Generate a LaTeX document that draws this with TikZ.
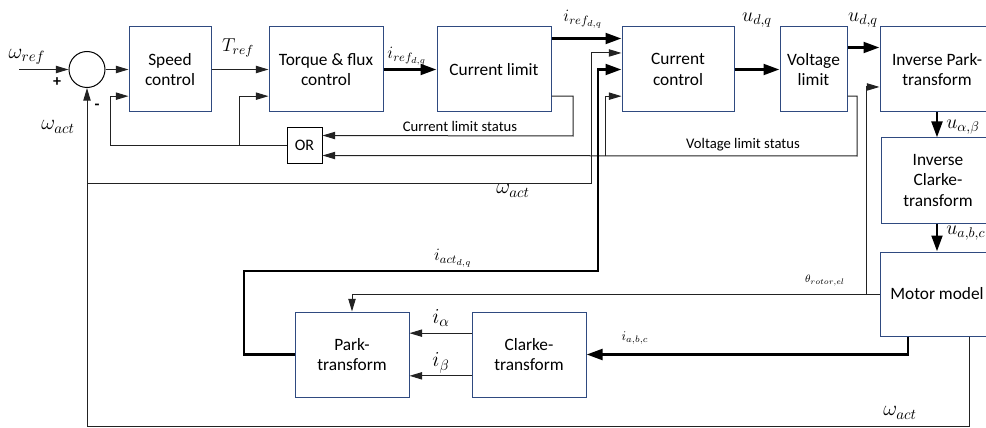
\RequirePackage{fix-cm}
\documentclass[tikz,border=0pt]{standalone}
\usepackage{fontspec}
\setmainfont{Carlito}
\usetikzlibrary{arrows.meta,positioning,calc}
\definecolor{boxblue}{HTML}{2F4A80}
\definecolor{wire}{HTML}{222222}
\tikzset{
  box/.style={rectangle,draw=boxblue,line width=0.75pt,align=center,
              font=\fontsize{13}{15.5}\selectfont,inner sep=2pt,
              minimum width=85.5pt,minimum height=63.75pt},
  orbox/.style={rectangle,draw=black,line width=0.75pt,font=\fontsize{12}{14}\selectfont,
              minimum width=26.25pt,minimum height=26.25pt,inner sep=0pt},
  sumc/.style={circle,draw=black,line width=0.75pt,minimum size=27pt,inner sep=0pt},
  fl/.style={-{Triangle[length=9.5pt,width=5.5pt]},line width=0.75pt,draw=wire},
  flt/.style={-{Triangle[length=12pt,width=8pt]},line width=2.2pt,draw=black},
  lbl/.style={font=\fontsize{11}{13}\selectfont,inner sep=0pt},
  mth/.style={inner sep=0pt},
  sgn/.style={font=\bfseries\fontsize{12}{14}\selectfont,inner sep=0pt},
}

\begin{document}
\begin{tikzpicture}[x=0.75pt,y=-0.75pt]
\useasboundingbox (0,0) rectangle (986,428);
% blocks
\node[sumc] (sum) at (87,69.5) {};
\node[box,minimum width=61.5pt] (spd) at (170,69.5) {Speed\\control};
\node[box] (trq) at (326,69.5) {Torque \& flux\\control};
\node[box] (clim) at (494,69.5) {Current limit};
\node[box,minimum width=84pt] (cctl) at (678,69.5) {Current\\control};
\node[box,minimum width=50.25pt] (vlim) at (813.5,69.5) {Voltage\\limit};
\node[box] (ipark) at (937,69.5) {Inverse Park-\\transform};
\node[box] (iclk) at (938,180.5) {Inverse\\Clarke-\\transform};
\node[box,minimum height=63pt] (motor) at (937,294) {Motor model};
\node[orbox] (or) at (304.5,145.5) {OR};
\node[box] (park) at (352,354.5) {Park-\\transform};
\node[box] (clk) at (529,354.5) {Clarke-\\transform};
% forward path
\coordinate (win) at (19,69.5);
\draw[fl] (win) -- (sum);
\node[mth,font=\fontsize{16}{19}\selectfont] (lwref) at (27,57) {$\omega_{ref}$};
\node[sgn] (lplus) at (57,82) {+};
\node[sgn] (lminus) at (97,107) {-};
\draw[fl] (sum) -- (spd);
\draw[fl] (spd) -- (trq);
\node[mth,font=\fontsize{14}{16}\selectfont] (ltref) at (238,48) {$T_{ref}$};
\draw[flt] (trq) -- (clim);
\node[mth,font=\fontsize{13}{15}\selectfont] (liref) at (407,56) {$i_{ref_{d,q}}$};
\draw[flt] ([yshift=-9pt]clim.north east) -- ([yshift=-9pt]cctl.north west);
\node[mth,font=\fontsize{13}{15}\selectfont] (liref2) at (583,19) {$i_{ref_{d,q}}$};
\draw[flt] (cctl) -- (vlim);
\node[mth,font=\fontsize{15}{17}\selectfont] (lud) at (757,20) {$u_{d,q}$};
\draw[flt] ([yshift=-15.75pt]vlim.north east) -- ([yshift=-15.75pt]ipark.north west);
\node[mth,font=\fontsize{15}{17}\selectfont] (lud2) at (863,20) {$u_{d,q}$};
\draw[flt] (ipark.south) -- (ipark.south |- iclk.north);
\node[mth,font=\fontsize{15}{17}\selectfont,anchor=west] (luab) at (946,127) {$u_{\alpha,\beta}$};
\draw[flt] (iclk.south -| ipark.south) -- (ipark.south |- motor.north);
\node[mth,font=\fontsize{15}{17}\selectfont,anchor=west] (luabc) at (946,233) {$u_{a,b,c}$};
% limit status and OR feedback
\coordinate (cls) at (573,136);
\draw[fl] ([yshift=-20pt]clim.east) -| (cls) -- ([yshift=7.5pt]or.east);
\node[lbl] (lcls) at (460,126) {Current limit status};
\coordinate (vls) at (857,156);
\draw[fl] ([yshift=-20pt]vlim.east) -| (vls) -- ([yshift=-7.5pt]or.east);
\node[lbl] (lvls) at (743,145) {Voltage limit status};
\coordinate (vlsb) at (605,156);
\draw[fl] (vlsb) |- ([yshift=-20pt]cctl.west);
\coordinate (fbspd) at (110,145.5);
\coordinate (fbtrq) at (239,145.5);
\draw[fl] (or.west) -- (fbspd) |- ([yshift=-20pt]spd.west);
\draw[fl] (fbtrq) |- ([yshift=-20pt]trq.west);
% speed feedback
\coordinate (wbl) at (87,426.5);
\draw[fl] ([xshift=24pt]motor.south) |- (wbl) -- (sum.south);
\node[mth,font=\fontsize{16}{19}\selectfont] (lwact1) at (58,127) {$\omega_{act}$};
\node[mth,font=\fontsize{16}{19}\selectfont] (lwact3) at (900,413) {$\omega_{act}$};
\coordinate (wbr) at (87,183);
\coordinate (wup) at (591,183);
\draw[fl] (wbr) -- (wup) |- ([yshift=12.4pt]cctl.west);
\node[mth,font=\fontsize{16}{19}\selectfont] (lwact2) at (513,191) {$\omega_{act}$};
% current feedback
\draw[flt] ([xshift=-21.75pt]motor.south) |- (clk.east);
\node[mth,font=\fontsize{10}{12}\selectfont] (liabc) at (635,338) {$i_{a,b,c}$};
\draw[fl] ([yshift=16pt]clk.west) -- ([yshift=16pt]park.east);
\node[mth,font=\fontsize{16}{18}\selectfont] (lia) at (441,318) {$i_{\alpha}$};
\draw[fl] ([yshift=-16pt]clk.west) -- ([yshift=-16pt]park.east);
\node[mth,font=\fontsize{16}{18}\selectfont] (lib) at (441,363) {$i_{\beta}$};
\coordinate (iactl) at (244,271);
\coordinate (iactr) at (598,271);
\draw[flt] (park.west) -| (iactl) -- (iactr) |- (cctl.west);
\node[mth,font=\fontsize{13}{15}\selectfont] (liact) at (453,258) {$i_{act_{d,q}}$};
% rotor angle
\draw[fl] (motor.west) -| (park.north);
\node[mth,font=\fontsize{8}{10}\selectfont] (lth) at (825,281) {$\theta_{rotor,el}$};
\coordinate (thb) at (866,294);
\draw[fl] (thb) |- ([yshift=-13.1pt]ipark.west);
\end{tikzpicture}
\end{document}
